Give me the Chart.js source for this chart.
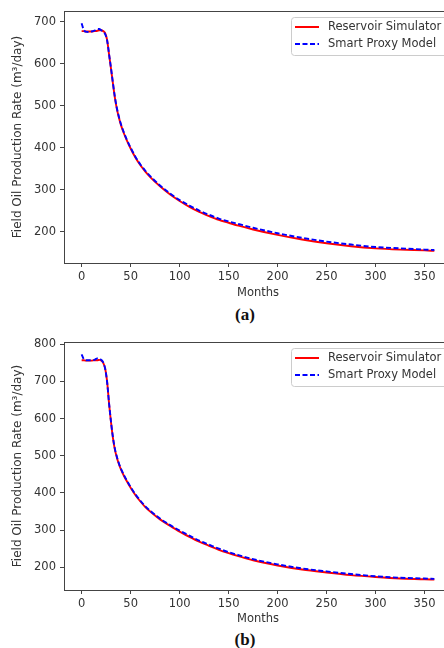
<!DOCTYPE html>
<html>
<head>
<meta charset="utf-8">
<script src="https://cdn.jsdelivr.net/npm/chart.js@4.4.0/dist/chart.umd.min.js"></script>
<style>
  html, body { margin: 0; padding: 0; background: #fff; }
  body { width: 444px; height: 648px; overflow: hidden; position: relative; }
  .panel { position: absolute; left: 0; }
  .cap { position: absolute; font: bold 17px "Liberation Serif", "Times New Roman", serif; color: #111; transform: translate(-50%, -50%); }
</style>
</head>
<body>
<div class="panel" style="top:0"><canvas id="chartA" width="456" height="300"></canvas></div>
<div class="panel" style="top:330px"><canvas id="chartB" width="456" height="296"></canvas></div>
<div class="cap" style="left:245px; top:315px">(a)</div>
<div class="cap" style="left:245px; top:640px">(b)</div>
<script>
// months sampled along the curves
const months = [0, 2, 4, 7, 10, 13, 16, 18, 20, 22, 24, 26, 28, 30, 32, 34, 36, 38, 40, 43, 46, 50, 55, 60, 65, 70,
  80, 90, 100, 110, 120, 130, 140, 150, 160, 175, 200, 225, 250, 275, 300, 325, 350, 360];

// (a)
const simA = [678, 678, 677, 677, 677, 678, 679, 680, 680, 678, 673, 657, 622, 588, 552, 518, 492, 472, 455, 435, 418, 398, 376, 358, 343, 330,
  308, 289, 273, 259, 247, 237, 228, 221, 214, 205, 192, 181, 172, 165, 160, 157, 155, 154];
const proxyA = [697, 682, 677, 676, 677, 679, 683, 683, 680, 677, 671, 656, 623, 589, 553, 520, 494, 474, 457, 437, 420, 400, 378, 360, 345, 332,
  310, 291, 275, 262, 250, 240, 231, 224, 218, 209, 196, 185, 176, 169, 163, 160, 157, 156];

// (b)
const simB = [757, 757, 756, 756, 756, 757, 757, 758, 756, 750, 735, 700, 640, 590, 547, 516, 495, 478, 464, 447, 432, 414, 394, 377, 362, 350,
  329, 312, 296, 282, 269, 258, 247, 238, 230, 219, 205, 194, 186, 179, 174, 170, 168, 167];
const proxyB = [773, 761, 757, 757, 757, 758, 762, 761, 758, 751, 734, 698, 641, 591, 549, 518, 497, 480, 466, 449, 434, 416, 396, 379, 364, 352,
  331, 314, 299, 285, 272, 261, 250, 241, 233, 222, 208, 197, 189, 182, 176, 172, 170, 169];

const xTicks = [0, 50, 100, 150, 200, 250, 300, 350];
const yTicksA = [200, 300, 400, 500, 600, 700];
const yTicksB = [200, 300, 400, 500, 600, 700, 800];
const seriesNames = ['Reservoir Simulator', 'Smart Proxy Model'];

const FONT = 'DejaVu Sans';
const TXT = '#333';
const AX = '#444';

// top and right spines like matplotlib
const framePlugin = {
  id: 'frame',
  afterDraw(chart) {
    const { ctx, chartArea: a } = chart;
    ctx.save();
    ctx.strokeStyle = AX;
    ctx.lineWidth = 1;
    ctx.beginPath();
    ctx.moveTo(a.left, Math.round(a.top) + 0.5);
    ctx.lineTo(a.right, Math.round(a.top) + 0.5);
    ctx.moveTo(Math.round(a.right) - 0.5, a.top);
    ctx.lineTo(Math.round(a.right) - 0.5, a.bottom);
    ctx.stroke();
    ctx.restore();
  }
};

// legend box in the upper right corner
const boxLegend = {
  id: 'boxLegend',
  afterDraw(chart) {
    const { ctx, chartArea: a } = chart;
    const x0 = 291, y0 = Math.round(a.top) + 6, w = 158, h = 38;
    ctx.save();
    ctx.fillStyle = 'rgba(255,255,255,0.85)';
    ctx.strokeStyle = '#cccccc';
    ctx.lineWidth = 1;
    ctx.beginPath();
    if (ctx.roundRect) ctx.roundRect(x0 + 0.5, y0 + 0.5, w, h, 3);
    else ctx.rect(x0 + 0.5, y0 + 0.5, w, h);
    ctx.fill();
    ctx.stroke();
    chart.data.datasets.forEach((ds, i) => {
      const y = y0 + 10 + i * 17;
      ctx.strokeStyle = ds.borderColor;
      ctx.lineWidth = 2;
      ctx.setLineDash(ds.borderDash || []);
      ctx.beginPath();
      ctx.moveTo(x0 + 4, y);
      ctx.lineTo(x0 + 28, y);
      ctx.stroke();
      ctx.setLineDash([]);
      ctx.fillStyle = TXT;
      ctx.font = '11.5px "' + FONT + '"';
      ctx.textBaseline = 'middle';
      ctx.fillText(ds.label, x0 + 37, y);
    });
    ctx.restore();
  }
};

function makeChart(id, sim, proxy, yMin, yMax, yTicks, padTop, xAxisHeight) {
  const ctx = document.getElementById(id);
  return new Chart(ctx, {
    type: 'line',
    data: {
      datasets: [
        {
          label: seriesNames[0],
          data: months.map((m, i) => ({ x: m, y: sim[i] })),
          borderColor: '#ff0000',
          borderWidth: 1.9,
          pointRadius: 0,
          cubicInterpolationMode: 'monotone',
          order: 1
        },
        {
          label: seriesNames[1],
          data: months.map((m, i) => ({ x: m, y: proxy[i] })),
          borderColor: '#0000ff',
          borderWidth: 1.9,
          borderDash: [5, 2.5],
          pointRadius: 0,
          cubicInterpolationMode: 'monotone',
          order: 0
        }
      ]
    },
    options: {
      responsive: false,
      animation: false,
      events: [],
      layout: { padding: { top: padTop, right: 4, left: 0, bottom: 0 } },
      plugins: { legend: { display: false }, tooltip: { enabled: false } },
      scales: {
        x: {
          type: 'linear',
          min: -18,
          max: 378,
          afterBuildTicks: s => { s.ticks = xTicks.map(v => ({ value: v })); },
          afterFit: s => { s.height = xAxisHeight; },
          grid: { drawOnChartArea: false, drawTicks: true, tickLength: 4, color: AX },
          border: { display: true, color: AX, width: 1 },
          ticks: { color: TXT, font: { family: FONT, size: 11.5 }, padding: 3, maxRotation: 0, autoSkip: false },
          title: { display: true, text: 'Months', color: TXT, font: { family: FONT, size: 11.5 }, padding: { top: 0, bottom: 0 } }
        },
        y: {
          type: 'linear',
          min: yMin,
          max: yMax,
          afterBuildTicks: s => { s.ticks = yTicks.map(v => ({ value: v })); },
          afterFit: s => { s.width = 64; },
          grid: { drawOnChartArea: false, drawTicks: true, tickLength: 4, color: AX },
          border: { display: true, color: AX, width: 1 },
          ticks: { color: TXT, font: { family: FONT, size: 11.5 }, padding: 4 },
          title: { display: true, text: 'Field Oil Production Rate (m³/day)', color: TXT, font: { family: FONT, size: 12 }, padding: { top: 11, bottom: 0 } }
        }
      }
    },
    plugins: [framePlugin, boxLegend]
  });
}

makeChart('chartA', simA, proxyA, 125, 726, yTicksA, 11, 37);
makeChart('chartB', simB, proxyB, 139, 806, yTicksB, 12, 36);
</script>
</body>
</html>
